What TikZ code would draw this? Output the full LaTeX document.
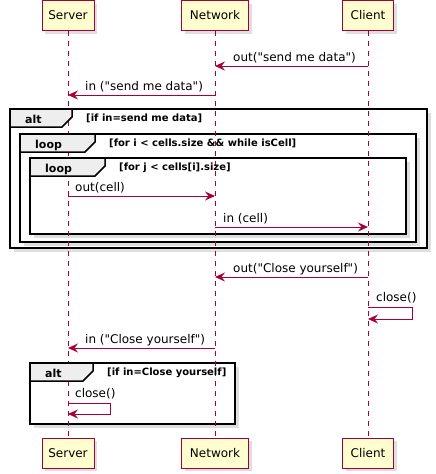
\documentclass[tikz,border=0pt]{standalone}
\usepackage{fontspec}
\setmainfont{DejaVu Sans}[Ligatures=TeXOff]
\usetikzlibrary{positioning,arrows.meta,shadows}
\definecolor{umlred}{HTML}{A80036}
\definecolor{umlfill}{HTML}{FEFECE}
\definecolor{tabgray}{HTML}{EEEEEE}

\begin{document}
\begin{tikzpicture}[x=1pt, y=-1pt,
    every node/.style={font=\fontsize{12}{14}\selectfont},
    actor/.style={draw=umlred, fill=umlfill, line width=1pt, minimum height=30pt, inner sep=0pt,
        drop shadow={shadow xshift=3pt, shadow yshift=-3pt, fill=black!25}},
    life/.style={umlred, line width=0.8pt, dash pattern=on 5pt off 5pt},
    msg/.style={umlred, line width=0.9pt, -{Stealth[length=10pt, width=9pt, inset=3.5pt]}},
    txt/.style={anchor=base west, inner sep=0pt},
    box/.style={line width=1.5pt, fill=white,
        drop shadow={shadow xshift=4pt, shadow yshift=-4pt, fill=black!25}},
    tab/.style={line width=1.5pt, fill=tabgray},
    kind/.style={anchor=base west, inner sep=0pt, font=\bfseries\fontsize{11}{13}\selectfont},
    guard/.style={anchor=base west, inner sep=0pt, font=\bfseries\fontsize{10}{12}\selectfont}]

    \useasboundingbox (0,0) rectangle (436,474);

    % Participants, top and bottom
    \foreach \n/\t/\x/\w in {srv/Server/68/52, net/Network/215/67, cli/Client/368/51} {
        \node[actor, minimum width=\w pt] (\n) at (\x,15.5) {\t};
        \node[actor, minimum width=\w pt] (\n2) at (\x,453) {\t};
    }

    % Frame bodies (outer ones first)
    \foreach \x/\y/\X/\Y in {10/109/427/248, 20/134/416/242, 30/158/406/234, 30/363/235/424}
        \draw[box] (\x,\y) rectangle (\X,\Y);

    % Lifelines
    \foreach \n in {srv,net,cli}
        \draw[life] (\n) -- (\n2);

    % Tabs with kind and guard
    \foreach \i/\x/\y/\tx/\k/\g in {1/10/109/72/alt/{[if in=send me data]},
                                    2/20/134/95/loop/{[for i < cells.size \&\& while isCell]},
                                    3/30/158/105/loop/{[for j < cells[i].size]},
                                    4/30/363/93/alt/{[if in=Close yourself]}} {
        \draw[tab] (\x,\y) -- (\tx,\y) -- (\tx,\y+8) -- (\tx-10,\y+18) -- (\x,\y+18) -- cycle;
        \node[kind] (k\i) at (\x+15,\y+14) {\k};
        \node[guard] (g\i) at (\tx+14,\y+12) {\g};
    }

    % Messages between lifelines
    \foreach \i/\a/\b/\y/\lx/\t in {1/cli/net/66/233/{out("send me data")},
                                     2/net/srv/95/85/{in ("send me data")},
                                     3/srv/net/196/75/{out(cell)},
                                     4/net/cli/227/223/{in (cell)},
                                     5/cli/net/277/233/{out("Close yourself")},
                                     7/net/srv/348/85/{in ("Close yourself")}} {
        \coordinate (m\i a) at (\a |- 0,\y);
        \coordinate (m\i b) at (\b |- 0,\y);
        \draw[msg] (m\i a) -- (m\i b);
        \node[txt] (t\i) at (\lx,\y-5) {\t};
    }

    % Self messages
    \coordinate (m6a) at (cli |- 0,307);
    \coordinate (m6b) at (cli |- 0,319);
    \draw[msg] (m6a) -- ++(44,0) |- (m6b);
    \node[txt] (t6) at (376,301) {close()};

    \coordinate (m8a) at (srv |- 0,403);
    \coordinate (m8b) at (srv |- 0,414);
    \draw[msg] (m8a) -- ++(42,0) |- (m8b);
    \node[txt] (t8) at (75,397) {close()};
\end{tikzpicture}
\end{document}
